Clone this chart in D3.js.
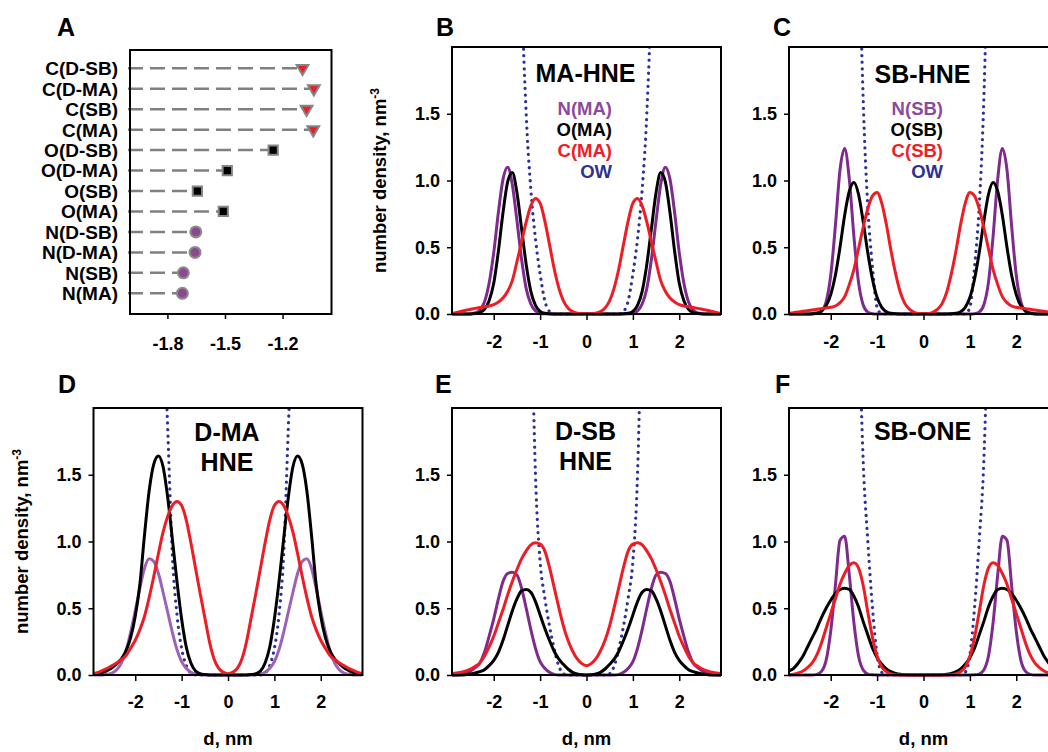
<!DOCTYPE html>
<html>
<head>
<meta charset="utf-8">
<script src="https://cdnjs.cloudflare.com/ajax/libs/d3/7.8.5/d3.min.js"></script>
<style>
body { margin: 0; background: #fff; }
svg text { font-family: "Liberation Sans", Arial, sans-serif; font-weight: bold; }
</style>
</head>
<body>
<svg width="1048" height="752"></svg>
<script>
// distance from bilayer centre, nm
var dValues = [-2.9, -2.8, -2.7, -2.6, -2.5, -2.4, -2.3, -2.2, -2.1, -2.0,
    -1.9, -1.8, -1.7, -1.6, -1.5, -1.4, -1.3, -1.2, -1.1, -1.0,
    -0.9, -0.8, -0.7, -0.6, -0.5, -0.4, -0.3, -0.2, -0.1, 0,
    0.1, 0.2, 0.3, 0.4, 0.5, 0.6, 0.7, 0.8, 0.9,
    1.0, 1.1, 1.2, 1.3, 1.4, 1.5, 1.6, 1.7, 1.8, 1.9,
    2.0, 2.1, 2.2, 2.3, 2.4, 2.5, 2.6, 2.7, 2.8, 2.9];

var xTicks = [-2, -1, 0, 1, 2];
var yTicks = [0, 0.5, 1.0, 1.5];

// panel A : mean positions
var aLabels = ["C(D-SB)", "C(D-MA)", "C(SB)", "C(MA)", "O(D-SB)", "O(D-MA)", "O(SB)", "O(MA)", "N(D-SB)", "N(D-MA)", "N(SB)", "N(MA)"];
var aValues = [-1.096, -1.037, -1.075, -1.04, -1.249, -1.488, -1.644, -1.509, -1.652, -1.656, -1.717, -1.722];
var aTicks = [-1.8, -1.5, -1.2];

// panel B : MA-HNE
var maN = [0, 0, 0, 0, 0.002, 0.008, 0.03, 0.09, 0.23, 0.46,
    0.76, 1.01, 1.10, 0.97, 0.70, 0.41, 0.19, 0.075, 0.023, 0.006,
    0.001, 0, 0, 0, 0, 0, 0, 0, 0, 0,
    0, 0, 0, 0, 0, 0, 0, 0, 0.001,
    0.006, 0.023, 0.075, 0.19, 0.41, 0.70, 0.97, 1.10, 1.01, 0.76,
    0.46, 0.23, 0.09, 0.03, 0.008, 0.002, 0, 0, 0, 0];
var maO = [0, 0, 0, 0, 0, 0.003, 0.01, 0.035, 0.10, 0.23,
    0.47, 0.76, 0.99, 1.06, 0.91, 0.64, 0.37, 0.17, 0.065, 0.02,
    0.005, 0.001, 0, 0, 0, 0, 0, 0, 0, 0,
    0, 0, 0, 0, 0, 0, 0, 0.001, 0.005,
    0.02, 0.065, 0.17, 0.37, 0.64, 0.91, 1.06, 0.99, 0.76, 0.47,
    0.23, 0.10, 0.035, 0.01, 0.003, 0, 0, 0, 0, 0];
var maC = [0.005, 0.012, 0.02, 0.028, 0.035, 0.042, 0.048, 0.055, 0.06, 0.07,
    0.09, 0.12, 0.17, 0.25, 0.39, 0.54, 0.69, 0.81, 0.865, 0.83,
    0.70, 0.525, 0.345, 0.20, 0.10, 0.045, 0.018, 0.006, 0.002, 0,
    0.002, 0.006, 0.018, 0.045, 0.10, 0.20, 0.345, 0.525, 0.70,
    0.83, 0.865, 0.81, 0.69, 0.54, 0.39, 0.25, 0.17, 0.12, 0.09,
    0.07, 0.06, 0.055, 0.048, 0.042, 0.035, 0.028, 0.02, 0.012, 0.005];
var maOW = [12, 12, 12, 12, 12, 12, 12, 12, 12, 12,
    12, 12, 12, 7, 4.5, 2.5, 1.5, 0.93, 0.56, 0.30,
    0.10, 0.02, 0, 0, 0, 0, 0, 0, 0, 0,
    0, 0, 0, 0, 0, 0, 0, 0.02, 0.10,
    0.30, 0.56, 0.93, 1.5, 2.5, 4.5, 7, 12, 12, 12,
    12, 12, 12, 12, 12, 12, 12, 12, 12, 12];

// panel C : SB-HNE
var sbN = [0, 0, 0, 0, 0, 0, 0.003, 0.02, 0.09, 0.29,
    0.66, 1.08, 1.24, 1.01, 0.58, 0.235, 0.068, 0.014, 0.002, 0,
    0, 0, 0, 0, 0, 0, 0, 0, 0, 0,
    0, 0, 0, 0, 0, 0, 0, 0, 0,
    0, 0.002, 0.014, 0.068, 0.235, 0.58, 1.01, 1.24, 1.08, 0.66,
    0.29, 0.09, 0.02, 0.003, 0, 0, 0, 0, 0, 0];
var sbO = [0, 0, 0, 0, 0, 0.002, 0.007, 0.022, 0.061, 0.145,
    0.29, 0.50, 0.74, 0.92, 0.985, 0.895, 0.69, 0.456, 0.26, 0.123,
    0.05, 0.017, 0.005, 0.001, 0, 0, 0, 0, 0, 0,
    0, 0, 0, 0, 0, 0.001, 0.005, 0.017, 0.05,
    0.123, 0.26, 0.456, 0.69, 0.895, 0.985, 0.92, 0.74, 0.50, 0.29,
    0.145, 0.061, 0.022, 0.007, 0.002, 0, 0, 0, 0, 0];
var sbC = [0.005, 0.01, 0.015, 0.02, 0.025, 0.03, 0.035, 0.04, 0.045, 0.05,
    0.06, 0.085, 0.13, 0.22, 0.335, 0.49, 0.65, 0.79, 0.885, 0.91,
    0.83, 0.67, 0.474, 0.30, 0.163, 0.078, 0.034, 0.013, 0.004, 0.002,
    0.004, 0.013, 0.034, 0.078, 0.163, 0.30, 0.474, 0.67, 0.83,
    0.91, 0.885, 0.79, 0.65, 0.49, 0.335, 0.22, 0.13, 0.085, 0.06,
    0.05, 0.045, 0.04, 0.035, 0.03, 0.025, 0.02, 0.015, 0.01, 0.005];
var sbOW = [12, 12, 12, 12, 12, 12, 12, 12, 12, 12,
    12, 12, 12, 9, 5, 3.0, 1.6, 0.8, 0.35, 0.05,
    0, 0, 0, 0, 0, 0, 0, 0, 0, 0,
    0, 0, 0, 0, 0, 0, 0, 0, 0,
    0.05, 0.35, 0.8, 1.6, 3.0, 5, 9, 12, 12, 12,
    12, 12, 12, 12, 12, 12, 12, 12, 12, 12];

// panel D : D-MA HNE
var dmaN = [0, 0, 0, 0.005, 0.015, 0.04, 0.09, 0.18, 0.32, 0.48,
    0.65, 0.80, 0.87, 0.85, 0.76, 0.62, 0.47, 0.32, 0.19, 0.10,
    0.05, 0.02, 0.008, 0.002, 0, 0, 0, 0, 0, 0,
    0, 0, 0, 0, 0, 0.002, 0.008, 0.02, 0.05,
    0.10, 0.19, 0.32, 0.47, 0.62, 0.76, 0.85, 0.87, 0.80, 0.65,
    0.48, 0.32, 0.18, 0.09, 0.04, 0.015, 0.005, 0, 0, 0];
var dmaO = [0.005, 0.01, 0.02, 0.035, 0.055, 0.085, 0.12, 0.18, 0.28, 0.44,
    0.68, 1.05, 1.38, 1.58, 1.64, 1.56, 1.33, 1.02, 0.70, 0.42,
    0.21, 0.09, 0.03, 0.01, 0.003, 0, 0, 0, 0, 0,
    0, 0, 0, 0, 0.003, 0.01, 0.03, 0.09, 0.21,
    0.42, 0.70, 1.02, 1.33, 1.56, 1.64, 1.58, 1.38, 1.05, 0.68,
    0.44, 0.28, 0.18, 0.12, 0.085, 0.055, 0.035, 0.02, 0.01, 0.005];
var dmaC = [0.01, 0.02, 0.035, 0.05, 0.07, 0.09, 0.115, 0.145, 0.2, 0.26,
    0.34, 0.44, 0.58, 0.74, 0.91, 1.07, 1.19, 1.27, 1.30, 1.27,
    1.16, 0.99, 0.80, 0.61, 0.43, 0.25, 0.12, 0.05, 0.02, 0.01,
    0.02, 0.05, 0.12, 0.25, 0.43, 0.61, 0.80, 0.99, 1.16,
    1.27, 1.30, 1.27, 1.19, 1.07, 0.91, 0.74, 0.58, 0.44, 0.34,
    0.26, 0.2, 0.145, 0.115, 0.09, 0.07, 0.05, 0.035, 0.02, 0.01];
var dmaOW = [12, 12, 12, 12, 12, 12, 12, 12, 12, 12,
    12, 12, 12, 9, 4.5, 2.8, 1.85, 0.9, 0.45, 0.2,
    0.07, 0.015, 0, 0, 0, 0, 0, 0, 0, 0,
    0, 0, 0, 0, 0, 0, 0, 0.015, 0.07,
    0.2, 0.45, 0.9, 1.85, 2.8, 4.5, 9, 12, 12, 12,
    12, 12, 12, 12, 12, 12, 12, 12, 12, 12];

// panel E : D-SB HNE
var dsbN = [0, 0, 0.005, 0.015, 0.03, 0.055, 0.09, 0.17, 0.29, 0.42,
    0.57, 0.70, 0.76, 0.77, 0.75, 0.65, 0.50, 0.34, 0.20, 0.10,
    0.05, 0.02, 0.005, 0, 0, 0, 0, 0, 0, 0,
    0, 0, 0, 0, 0, 0, 0.005, 0.02, 0.05,
    0.10, 0.20, 0.34, 0.50, 0.65, 0.75, 0.77, 0.76, 0.70, 0.57,
    0.42, 0.29, 0.17, 0.09, 0.055, 0.03, 0.015, 0.005, 0, 0];
var dsbO = [0, 0, 0, 0.003, 0.008, 0.015, 0.025, 0.04, 0.07, 0.11,
    0.17, 0.26, 0.37, 0.48, 0.57, 0.63, 0.64, 0.62, 0.55, 0.45,
    0.35, 0.26, 0.18, 0.12, 0.08, 0.045, 0.02, 0.008, 0.002, 0,
    0.002, 0.008, 0.02, 0.045, 0.08, 0.12, 0.18, 0.26, 0.35,
    0.45, 0.55, 0.62, 0.64, 0.63, 0.57, 0.48, 0.37, 0.26, 0.17,
    0.11, 0.07, 0.04, 0.025, 0.015, 0.008, 0.003, 0, 0, 0];
var dsbC = [0.01, 0.015, 0.02, 0.03, 0.045, 0.065, 0.09, 0.14, 0.21, 0.29,
    0.39, 0.49, 0.60, 0.70, 0.79, 0.87, 0.93, 0.975, 0.99, 0.98,
    0.93, 0.81, 0.66, 0.51, 0.37, 0.26, 0.18, 0.12, 0.085, 0.07,
    0.085, 0.12, 0.18, 0.26, 0.37, 0.51, 0.66, 0.81, 0.93,
    0.98, 0.99, 0.975, 0.93, 0.87, 0.79, 0.70, 0.60, 0.49, 0.39,
    0.29, 0.21, 0.14, 0.09, 0.065, 0.045, 0.03, 0.02, 0.015, 0.01];
var dsbOW = [12, 12, 12, 12, 12, 12, 12, 12, 12, 12,
    12, 12, 12, 12, 12, 8, 5, 3.0, 1.5, 0.85,
    0.58, 0.37, 0.2, 0.07, 0.01, 0, 0, 0, 0, 0,
    0, 0, 0, 0, 0.01, 0.07, 0.2, 0.37, 0.58,
    0.85, 1.5, 3.0, 5, 8, 12, 12, 12, 12, 12,
    12, 12, 12, 12, 12, 12, 12, 12, 12, 12];

// panel F : SB-ONE
var oneN = [0, 0, 0, 0, 0, 0, 0.005, 0.027, 0.11, 0.33,
    0.67, 1.01, 1.04, 0.75, 0.39, 0.14, 0.037, 0.007, 0.001, 0,
    0, 0, 0, 0, 0, 0, 0, 0, 0, 0,
    0, 0, 0, 0, 0, 0, 0, 0, 0,
    0, 0.001, 0.007, 0.037, 0.14, 0.39, 0.75, 1.04, 1.01, 0.67,
    0.33, 0.11, 0.027, 0.005, 0, 0, 0, 0, 0, 0];
var oneO = [0.03, 0.05, 0.09, 0.14, 0.21, 0.28, 0.35, 0.43, 0.50, 0.56,
    0.61, 0.64, 0.65, 0.64, 0.59, 0.51, 0.40, 0.30, 0.20, 0.13,
    0.08, 0.045, 0.025, 0.012, 0.005, 0.002, 0, 0, 0, 0,
    0, 0, 0, 0.002, 0.005, 0.012, 0.025, 0.045, 0.08,
    0.13, 0.20, 0.30, 0.40, 0.51, 0.59, 0.64, 0.65, 0.64, 0.61,
    0.56, 0.50, 0.43, 0.35, 0.28, 0.21, 0.14, 0.09, 0.05, 0.03];
var oneC = [0, 0.005, 0.015, 0.03, 0.055, 0.09, 0.15, 0.24, 0.35, 0.46,
    0.57, 0.68, 0.76, 0.82, 0.84, 0.80, 0.67, 0.47, 0.28, 0.14,
    0.06, 0.025, 0.008, 0.002, 0, 0, 0, 0, 0, 0,
    0, 0, 0, 0, 0, 0.002, 0.008, 0.025, 0.06,
    0.14, 0.28, 0.47, 0.67, 0.80, 0.84, 0.82, 0.76, 0.68, 0.57,
    0.46, 0.35, 0.24, 0.15, 0.09, 0.055, 0.03, 0.015, 0.005, 0];
var oneOW = [12, 12, 12, 12, 12, 12, 12, 12, 12, 12,
    12, 12, 12, 9, 4.5, 2.8, 1.6, 1.0, 0.5, 0.15,
    0.02, 0, 0, 0, 0, 0, 0, 0, 0, 0,
    0, 0, 0, 0, 0, 0, 0, 0, 0.02,
    0.15, 0.5, 1.0, 1.6, 2.8, 4.5, 9, 12, 12, 12,
    12, 12, 12, 12, 12, 12, 12, 12, 12, 12];

var PURPLE = "#7f2b8e", PURPLE_LIGHT = "#9e62b5", RED = "#ee1c25", BLUE = "#2e3192";
var W = 269, H = 267;
var svg = d3.select("svg");

function styleAxis(g, size) {
    g.select(".domain").remove();
    g.selectAll(".tick line").attr("stroke", "#000").attr("stroke-width", 1.5);
    g.selectAll(".tick text").style("font-size", size + "px").style("fill", "#000");
}

function letter(t, x, y) {
    svg.append("text").attr("x", x).attr("y", y).style("font-size", "25px").style("fill", "#000").text(t);
}

function drawProfile(p) {
    var x = d3.scaleLinear().domain([-2.9, 2.9]).range([p.left, p.left + W]);
    var y = d3.scaleLinear().domain([0, 2.0]).range([p.top + H, p.top]);

    var clipId = "clip" + p.letter;
    svg.append("clipPath").attr("id", clipId)
        .append("rect")
        .attr("x", p.left).attr("y", p.top)
        .attr("width", W).attr("height", H + 3);

    var line = d3.line()
        .x((v, i) => x(dValues[i]))
        .y(v => y(v))
        .curve(d3.curveMonotoneX);

    var g = svg.append("g").attr("clip-path", "url(#" + clipId + ")");
    p.series.forEach(function (s) {
        var path = g.append("path")
            .attr("d", line(s.values))
            .attr("fill", "none")
            .attr("stroke", s.color);
        if (s.dotted) {
            path.attr("stroke-width", 3.2)
                .attr("stroke-dasharray", "0.1 6.5")
                .attr("stroke-linecap", "round");
        } else {
            path.attr("stroke-width", 3).attr("stroke-linejoin", "round");
        }
    });

    svg.append("rect")
        .attr("x", p.left).attr("y", p.top)
        .attr("width", W).attr("height", H)
        .attr("fill", "none").attr("stroke", "#000").attr("stroke-width", 2);

    svg.append("g")
        .attr("transform", "translate(0," + (p.top + H) + ")")
        .call(d3.axisBottom(x).tickValues(xTicks).tickFormat(d => String(d)).tickSize(6).tickPadding(p.xPad))
        .call(g => styleAxis(g, 18));

    svg.append("g")
        .attr("transform", "translate(" + p.left + ",0)")
        .call(d3.axisLeft(y).tickValues(yTicks).tickFormat(d => d.toFixed(1)).tickSize(5).tickPadding(7))
        .call(g => styleAxis(g, 18));

    // title inside the frame
    p.title.forEach(function (t, i) {
        svg.append("text")
            .attr("x", p.left + W / 2 - 1)
            .attr("y", p.top + p.titleY + i * 30)
            .attr("text-anchor", "middle")
            .style("font-size", "25px")
            .style("fill", "#000")
            .text(t);
    });

    if (p.legendX) {
        // legend order: N, O, C, OW
        var order = p.series.slice(1).concat([p.series[0]]);
        order.forEach(function (s, i) {
            svg.append("text")
                .attr("x", p.legendX)
                .attr("y", p.top + 68 + i * 21)
                .attr("text-anchor", "end")
                .style("font-size", "18.5px")
                .style("fill", s.legendColor || s.color)
                .text(s.name);
        });
    }

    if (p.yLabel) {
        var t = svg.append("text")
            .attr("transform", "translate(" + (p.left - 66) + "," + (p.top + H / 2) + ") rotate(-90)")
            .attr("text-anchor", "middle")
            .style("font-size", "18.5px")
            .style("fill", "#000")
            .text("number density, nm");
        t.append("tspan").attr("dy", -7).style("font-size", "12px").text("-3");
    }

    if (p.xLabel) {
        svg.append("text")
            .attr("x", p.left + W / 2)
            .attr("y", 745)
            .attr("text-anchor", "middle")
            .style("font-size", "18.5px")
            .style("fill", "#000")
            .text("d, nm");
    }

    letter(p.letter, p.letterX, p.letterY);
}

// ---- panel A ----
function drawPanelA() {
    var left = 130, right = 331.5, top = 50, bottom = 314;
    var x = d3.scaleLinear().domain([-1.995, -0.945]).range([left, right]);
    var y = d3.scalePoint().domain(aLabels).range([68.3, 293.3]);

    aLabels.forEach(function (c, i) {
        svg.append("line")
            .attr("x1", left - 2).attr("x2", x(aValues[i]))
            .attr("y1", y(c)).attr("y2", y(c))
            .attr("stroke", "#808080").attr("stroke-width", 2.5)
            .attr("stroke-dasharray", "15 7");
    });

    aLabels.forEach(function (c, i) {
        var kind = c.charAt(0);
        var cx = x(aValues[i]), cy = y(c);
        if (kind === "N") {
            svg.append("circle").attr("cx", cx).attr("cy", cy).attr("r", 5.5)
                .attr("fill", "#8b4a8f").attr("stroke", "#8c8c8c").attr("stroke-width", 2);
        } else {
            var sym = kind === "C" ? d3.symbolTriangle : d3.symbolSquare;
            var size = kind === "C" ? 60 : 85;
            svg.append("path")
                .attr("d", d3.symbol().type(sym).size(size)())
                .attr("transform", "translate(" + cx + "," + cy + ")" + (kind === "C" ? " rotate(180)" : ""))
                .attr("fill", kind === "C" ? "#ee1c25" : "#000")
                .attr("stroke", "#858585").attr("stroke-width", 2);
        }
        svg.append("text")
            .attr("x", 118).attr("y", cy).attr("dy", "0.36em")
            .attr("text-anchor", "end")
            .style("font-size", "19px")
            .style("fill", "#000")
            .text(c);
    });

    svg.append("rect")
        .attr("x", left).attr("y", top)
        .attr("width", right - left).attr("height", bottom - top)
        .attr("fill", "none").attr("stroke", "#000").attr("stroke-width", 2);

    svg.append("g")
        .attr("transform", "translate(0," + bottom + ")")
        .call(d3.axisBottom(x).tickValues(aTicks).tickFormat(d => d.toFixed(1)).tickSize(5).tickPadding(18))
        .call(g => styleAxis(g, 18));

    letter("A", 57, 36);
}

drawPanelA();

drawProfile({
    letter: "B", left: 452, top: 47, xPad: 15, letterX: 436, letterY: 36,
    title: ["MA-HNE"], titleY: 35, legendX: 612, yLabel: true,
    series: [
        { name: "OW", values: maOW, color: BLUE, dotted: true },
        { name: "N(MA)", values: maN, color: PURPLE, legendColor: "#8b4a9c" },
        { name: "O(MA)", values: maO, color: "#000" },
        { name: "C(MA)", values: maC, color: RED }
    ]
});

drawProfile({
    letter: "C", left: 789, top: 47, xPad: 15, letterX: 773, letterY: 36,
    title: ["SB-HNE"], titleY: 36, legendX: 943,
    series: [
        { name: "OW", values: sbOW, color: BLUE, dotted: true },
        { name: "N(SB)", values: sbN, color: PURPLE, legendColor: "#8b4a9c" },
        { name: "O(SB)", values: sbO, color: "#000" },
        { name: "C(SB)", values: sbC, color: RED }
    ]
});

drawProfile({
    letter: "D", left: 93.5, top: 408, xPad: 14, letterX: 58, letterY: 393,
    title: ["D-MA", "HNE"], titleY: 33, yLabel: true, xLabel: true,
    series: [
        { name: "OW", values: dmaOW, color: BLUE, dotted: true },
        { name: "N(D-MA)", values: dmaN, color: PURPLE_LIGHT },
        { name: "O(D-MA)", values: dmaO, color: "#000" },
        { name: "C(D-MA)", values: dmaC, color: RED }
    ]
});

drawProfile({
    letter: "E", left: 452, top: 408, xPad: 14, letterX: 435, letterY: 393,
    title: ["D-SB", "HNE"], titleY: 32, xLabel: true,
    series: [
        { name: "OW", values: dsbOW, color: BLUE, dotted: true },
        { name: "N(D-SB)", values: dsbN, color: PURPLE },
        { name: "O(D-SB)", values: dsbO, color: "#000" },
        { name: "C(D-SB)", values: dsbC, color: RED }
    ]
});

drawProfile({
    letter: "F", left: 789, top: 408, xPad: 14, letterX: 775, letterY: 393,
    title: ["SB-ONE"], titleY: 32, xLabel: true,
    series: [
        { name: "OW", values: oneOW, color: BLUE, dotted: true },
        { name: "N(SB)", values: oneN, color: PURPLE },
        { name: "O(SB)", values: oneO, color: "#000" },
        { name: "C(SB)", values: oneC, color: RED }
    ]
});
</script>
</body>
</html>
